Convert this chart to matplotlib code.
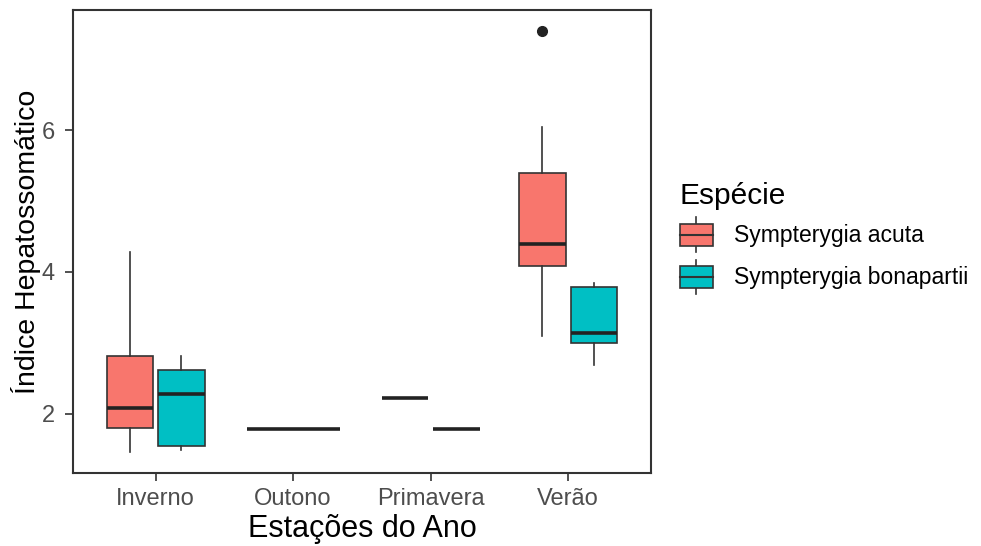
import matplotlib
matplotlib.use("Agg")
import matplotlib.pyplot as plt
from matplotlib.legend_handler import HandlerBase
from matplotlib.patches import Rectangle, Patch
from matplotlib.lines import Line2D

plt.rcParams['font.family'] = ['Liberation Sans', 'DejaVu Sans']

seasons = ["Inverno", "Outono", "Primavera", "Verão"]
species = ["Sympterygia acuta", "Sympterygia bonapartii"]
colors = ["#F8766D", "#00BFC4"]

# None = species not sampled in that season
acuta_lo = [1.46, 1.79, 2.22, 3.10]
acuta_q1 = [1.80, 1.79, 2.22, 4.08]
acuta_med = [2.08, 1.79, 2.22, 4.40]
acuta_q3 = [2.81, 1.79, 2.22, 5.39]
acuta_hi = [4.28, 1.79, 2.22, 6.05]
acuta_out = [[], [], [], [7.40]]

bona_lo = [1.49, None, 1.79, 2.69]
bona_q1 = [1.55, None, 1.79, 3.00]
bona_med = [2.28, None, 1.79, 3.14]
bona_q3 = [2.62, None, 1.79, 3.79]
bona_hi = [2.82, None, 1.79, 3.84]
bona_out = [[], [], [], []]

yticks = [2, 4, 6]

edge = "#333333"

fig = plt.figure(figsize=(9.81, 5.46), dpi=100)
ax = fig.add_axes([0.0744, 0.1337, 0.589, 0.848])

groups = [
    (acuta_lo, acuta_q1, acuta_med, acuta_q3, acuta_hi, acuta_out),
    (bona_lo, bona_q1, bona_med, bona_q3, bona_hi, bona_out),
]
dodge_total = 0.75
pad = 0.9
for i in range(len(seasons)):
    present = [gi for gi, g in enumerate(groups) if g[2][i] is not None]
    n = len(present)
    w = dodge_total / n
    for k, gi in enumerate(present):
        lo, q1, med, q3, hi, out = groups[gi]
        pos = i + 1 - dodge_total / 2 + w * (k + 0.5)
        st = dict(whislo=lo[i], q1=q1[i], med=med[i], q3=q3[i],
                  whishi=hi[i], fliers=out[i])
        ax.bxp([st], positions=[pos], widths=w * pad, patch_artist=True,
               showcaps=False, manage_ticks=False,
               boxprops=dict(facecolor=colors[gi], edgecolor=edge, linewidth=1.2),
               whiskerprops=dict(color=edge, linewidth=1.2),
               medianprops=dict(color="#222222", linewidth=2.6, solid_capstyle='butt'),
               flierprops=dict(marker='o', markerfacecolor="#222222",
                               markeredgecolor="#222222", markersize=7))

ax.set_xlim(0.4, 4.6)
ax.set_ylim(1.163, 7.697)
ax.set_xticks(range(1, len(seasons) + 1))
ax.set_xticklabels(seasons)
ax.set_yticks(yticks)
ax.set_yticklabels([str(t) for t in yticks])
ax.tick_params(axis='both', colors=edge, labelcolor="#4D4D4D",
               labelsize=17, length=6, width=1.2, direction='out')
ax.tick_params(axis='x', pad=5)
ax.tick_params(axis='y', pad=7)
for s in ax.spines.values():
    s.set_color(edge)
    s.set_linewidth(1.5)

ax.set_xlabel("Estações do Ano", fontsize=22, color="black", labelpad=3)
ax.set_ylabel("Índice Hepatossomático", fontsize=20.5, color="black", labelpad=0.5)


class BoxHandler(HandlerBase):
    def create_artists(self, legend, orig_handle, xdescent, ydescent,
                       width, height, fontsize, trans):
        fc = orig_handle.get_facecolor()
        bw = width
        x0 = -xdescent
        y0 = -ydescent + height * 0.18
        bh = height * 0.64
        rect = Rectangle((x0, y0), bw, bh, facecolor=fc, edgecolor=edge,
                         linewidth=1.2, transform=trans)
        cx = x0 + bw / 2
        med = Line2D([x0, x0 + bw], [y0 + bh / 2] * 2, color=edge,
                     linewidth=1.5, transform=trans)
        w1 = Line2D([cx, cx], [y0 + bh, y0 + bh + height * 0.18], color=edge,
                    linewidth=1.2, transform=trans)
        w2 = Line2D([cx, cx], [y0, y0 - height * 0.18], color=edge,
                    linewidth=1.2, transform=trans)
        return [w1, w2, rect, med]


handles = [Patch(facecolor=c, edgecolor=edge) for c in colors]
leg = fig.legend(handles, species, handler_map={Patch: BoxHandler()},
                 loc='upper left', bbox_to_anchor=(0.693, 0.667),
                 frameon=False, fontsize=16.5, title="Espécie",
                 title_fontsize=21.5, handlelength=1.45, handleheight=1.95,
                 handletextpad=0.9, labelspacing=0.33, borderpad=0,
                 borderaxespad=0)
leg._legend_box.align = "left"

fig.savefig("out.png", dpi=100)
